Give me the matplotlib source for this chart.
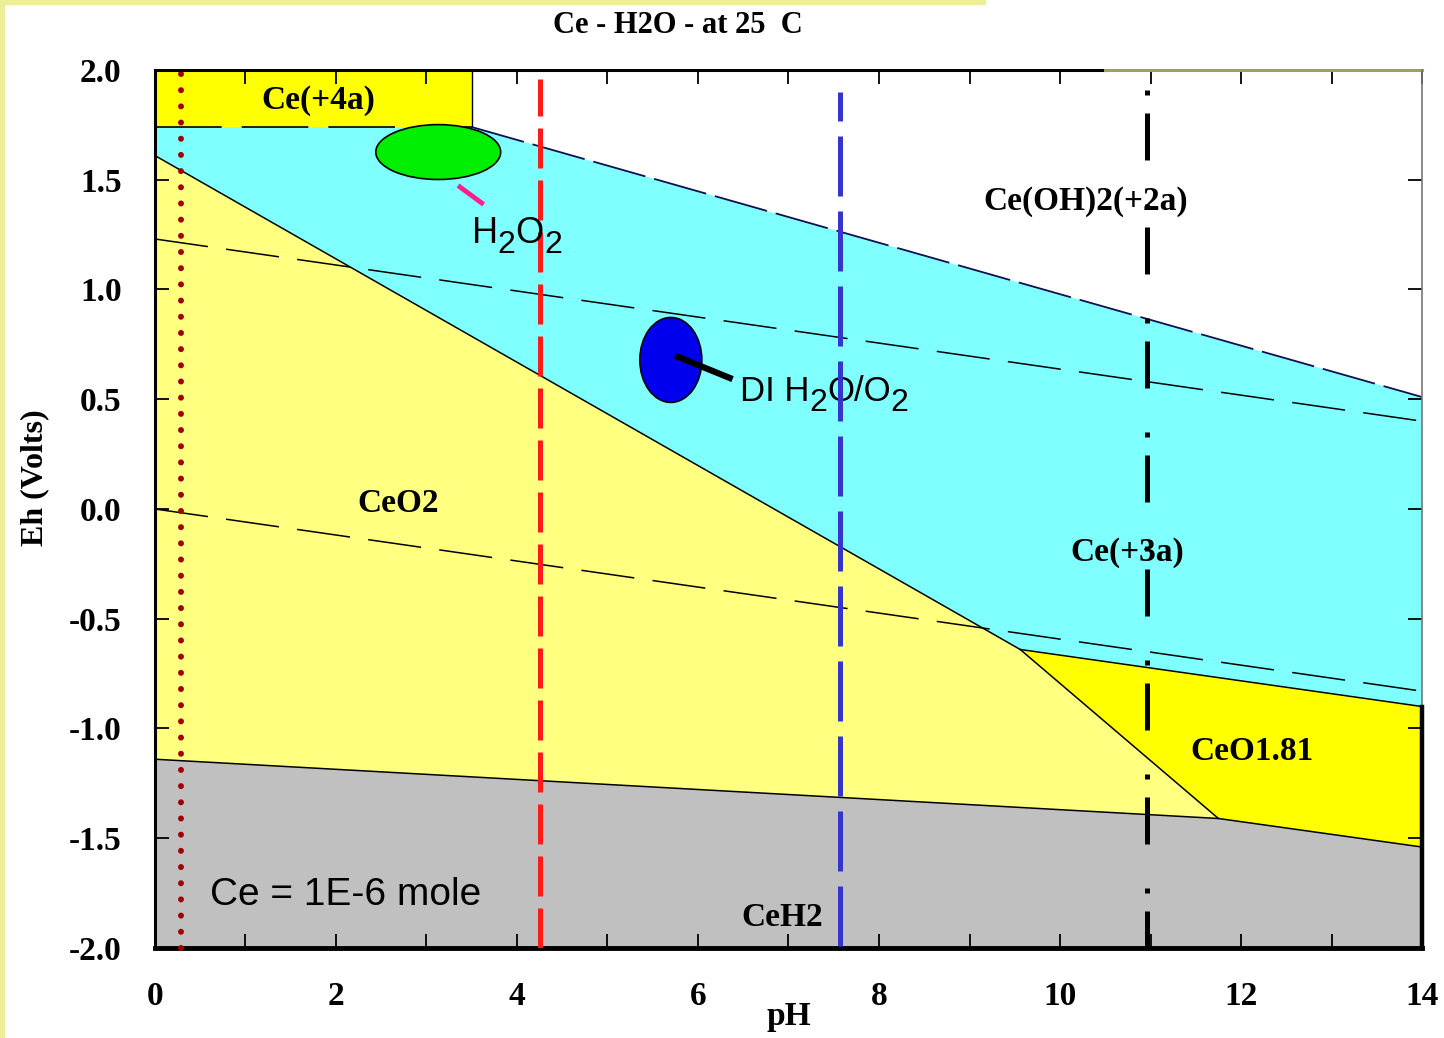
import matplotlib
matplotlib.use('Agg')
import matplotlib.pyplot as plt
from matplotlib.patches import Ellipse, Rectangle
from matplotlib.ticker import MultipleLocator, FormatStrFormatter
from matplotlib.transforms import offset_copy

plt.rcParams['axes.unicode_minus'] = False

# --- stability field boundaries (pH, Eh) ---
ce4_ph = [0.0, 3.5]
ce4_eh = 1.74
upper_ph = [3.5, 14.0]          # Ce(+3a) / Ce(OH)2(+2a)
upper_eh = [1.74, 0.51]
ceo2_ph = [0.0, 9.56, 11.75]    # CeO2 / Ce(+3a), CeO2 / CeO1.81
ceo2_eh = [1.61, -0.64, -1.41]
ceo181_ph = [9.56, 14.0]        # CeO1.81 / Ce(+3a)
ceo181_eh = [-0.64, -0.90]
ceh2_ph = [0.0, 11.75, 14.0]    # CeH2 top
ceh2_eh = [-1.14, -1.41, -1.54]

# water stability lines
o2_ph, o2_eh = [0.0, 14.0], [1.23, 0.40]
h2_ph, h2_eh = [0.0, 14.0], [0.0, -0.83]

# vertical marker lines: pH, top Eh
dot_ph, dot_top = 0.29, 2.0
red_ph, red_top = 4.25, 1.96
blue_ph, blue_top = 7.57, 1.90
blk_ph, blk_top = 10.96, 1.91

# measured points
h2o2_center, h2o2_size = (3.13, 1.626), (1.38, 0.25)
h2o2_tick = ([3.37, 3.61], [1.467, 1.394])
di_center, di_size = (5.70, 0.679), (0.685, 0.387)
di_tick = ([5.78, 6.35], [0.693, 0.597])

# field labels
field_labels = ['Ce(+4a)', 'Ce(OH)2(+2a)', 'CeO2', 'Ce(+3a)', 'CeO1.81', 'CeH2']
field_pos = [(1.80, 1.863), (10.28, 1.399), (2.69, 0.027),
             (10.74, -0.20), (12.12, -1.107), (6.93, -1.863)]

fig = plt.figure(figsize=(14.44, 10.38), dpi=100)
fig.patches.append(Rectangle((0, 0), 0.003, 1, transform=fig.transFigure,
                             color='#eeee99', zorder=0))
fig.patches.append(Rectangle((0, 0.996), 0.682, 0.004, transform=fig.transFigure,
                             color='#eeee99', zorder=0))
ax = fig.add_axes([0.1073, 0.0867, 0.8775, 0.8459])
ax.set_xlim(0, 14)
ax.set_ylim(-2, 2)

# --- filled fields ---
ax.fill([0, ce4_ph[1], ce4_ph[1], 0], [ce4_eh, ce4_eh, 2, 2], color='#ffff00', lw=0)
ax.fill([0] + upper_ph + [ceo181_ph[1], ceo181_ph[0], ceo2_ph[0]],
        [ce4_eh] + upper_eh + [ceo181_eh[1], ceo181_eh[0], ceo2_eh[0]],
        color='#80ffff', lw=0)
ax.fill(ceo2_ph + [ceh2_ph[0]], ceo2_eh + [ceh2_eh[0]], color='#ffff80', lw=0)
ax.fill(ceo181_ph + [ceh2_ph[2], ceh2_ph[1]], ceo181_eh + [ceh2_eh[2], ceh2_eh[1]],
        color='#ffff00', lw=0)
ax.fill(ceh2_ph + [14, 0], ceh2_eh + [-2, -2], color='#c0c0c0', lw=0)

# --- boundaries ---
ax.plot(ceo2_ph, ceo2_eh, color='black', lw=1.1)
ax.plot(ceo181_ph, ceo181_eh, color='black', lw=1.1)
ax.plot(ceh2_ph, ceh2_eh, color='black', lw=1.1)
ax.plot(ce4_ph, [ce4_eh, ce4_eh], color='black', lw=1.2, dashes=(40, 12))
ax.plot([ce4_ph[1], ce4_ph[1]], [ce4_eh, 2], color='black', lw=1.0)
ax.plot(upper_ph, upper_eh, color='#101050', lw=1.3, dashes=(30, 5))

# water lines
ax.plot(o2_ph, o2_eh, color='black', lw=1.1, dashes=(35, 12))
ax.plot(h2_ph, h2_eh, color='black', lw=1.1, dashes=(35, 12))

# vertical markers
ax.plot([dot_ph, dot_ph], [-2, dot_top], color='#a00000', lw=4.3,
        linestyle=(0, (0.01, 2.7)), dash_capstyle='round', clip_on=False, zorder=5)
ax.plot([red_ph, red_ph], [-2, red_top], color='#ff1a1a', lw=3.6,
        dashes=(8, 2.4), zorder=5)
ax.plot([blue_ph, blue_ph], [-1.99, blue_top], color='#3535cc', lw=3.6,
        dashes=(12, 3), zorder=5)
ax.plot([blk_ph, blk_ph], [blk_top, -2], color='black', lw=3.6,
        dashes=(1, 3.6, 9.4, 8.8), zorder=5)


def chem_label(x, y, parts, size, sub_size, drop, z):
    # draw text pieces one after another; subscripts are lowered by `drop` px
    renderer = fig.canvas.get_renderer()
    dx = 0.0
    for s, is_sub in parts:
        tr = offset_copy(ax.transData, fig=fig, x=dx, y=-drop if is_sub else 0,
                         units='dots')
        t = ax.text(x, y, s, transform=tr, fontsize=sub_size if is_sub else size,
                    family='Liberation Sans', ha='left', va='baseline', zorder=z)
        dx += t.get_window_extent(renderer).width


# measurement ellipses
ax.add_patch(Ellipse(h2o2_center, *h2o2_size, facecolor='#00ee00',
                     edgecolor='black', lw=1.2, zorder=4))
ax.plot(*h2o2_tick, color='#ff2090', lw=3.5, zorder=4)
chem_label(3.50, 1.213, [('H', 0), ('2', 1), ('O', 0), ('2', 1)], 26, 23, 10, 6)
ax.add_patch(Ellipse(di_center, *di_size, facecolor='#0000ee',
                     edgecolor='black', lw=1.2, zorder=4))
ax.plot(*di_tick, color='black', lw=4.5, zorder=4)
chem_label(6.46, 0.49, [('DI H', 0), ('2', 1), ('O/O', 0), ('2', 1)], 25, 23, 10, 4)

# labels
serif = dict(family='Liberation Serif', fontweight='bold')
for lab, (x, y) in zip(field_labels, field_pos):
    ax.text(x, y, lab, fontsize=24, ha='center', va='center', zorder=4, **serif)
ax.text(0.61, -1.758, 'Ce = 1E-6 mole', fontsize=28, family='Liberation Sans',
        ha='left', va='center')

# frame
for s in ['top', 'right']:
    ax.spines[s].set_visible(False)
ax.spines['left'].set_linewidth(2.2)
ax.spines['bottom'].set_linewidth(3.5)
ax.plot([0, 10.5], [2, 2], color='black', lw=2.2, clip_on=False, zorder=6)
ax.plot([10.5, 14], [2, 2], color='#a09c6c', lw=2.2, clip_on=False, zorder=6)
ax.plot([14, 14], [ceo181_eh[1], 2], color='#777777', lw=1.2, clip_on=False, zorder=6)
ax.plot([14, 14], [-2, ceo181_eh[1]], color='black', lw=3.2, clip_on=False, zorder=6)

ax.xaxis.set_major_locator(MultipleLocator(2))
ax.xaxis.set_minor_locator(MultipleLocator(1))
ax.yaxis.set_major_locator(MultipleLocator(0.5))
ax.yaxis.set_major_formatter(FormatStrFormatter('%.1f'))
ax.tick_params(which='both', direction='in', top=True, right=True,
               length=10, width=1.3)
ax.tick_params(axis='x', pad=24)
ax.tick_params(axis='y', pad=24)
for lab in ax.get_xticklabels() + ax.get_yticklabels():
    lab.set_fontfamily('Liberation Serif')
    lab.set_fontweight('bold')
    lab.set_fontsize(24)

ax.set_xlabel('pH', fontsize=24, labelpad=-8, **serif)
fig.text(0.0242, 0.5395, 'Eh (Volts)', fontsize=23, rotation=90,
         ha='center', va='center', **serif)
fig.text(0.4695, 0.975, 'Ce - H2O - at 25  C', fontsize=22, ha='center', va='center', **serif)

fig.savefig('out.png', dpi=100)
